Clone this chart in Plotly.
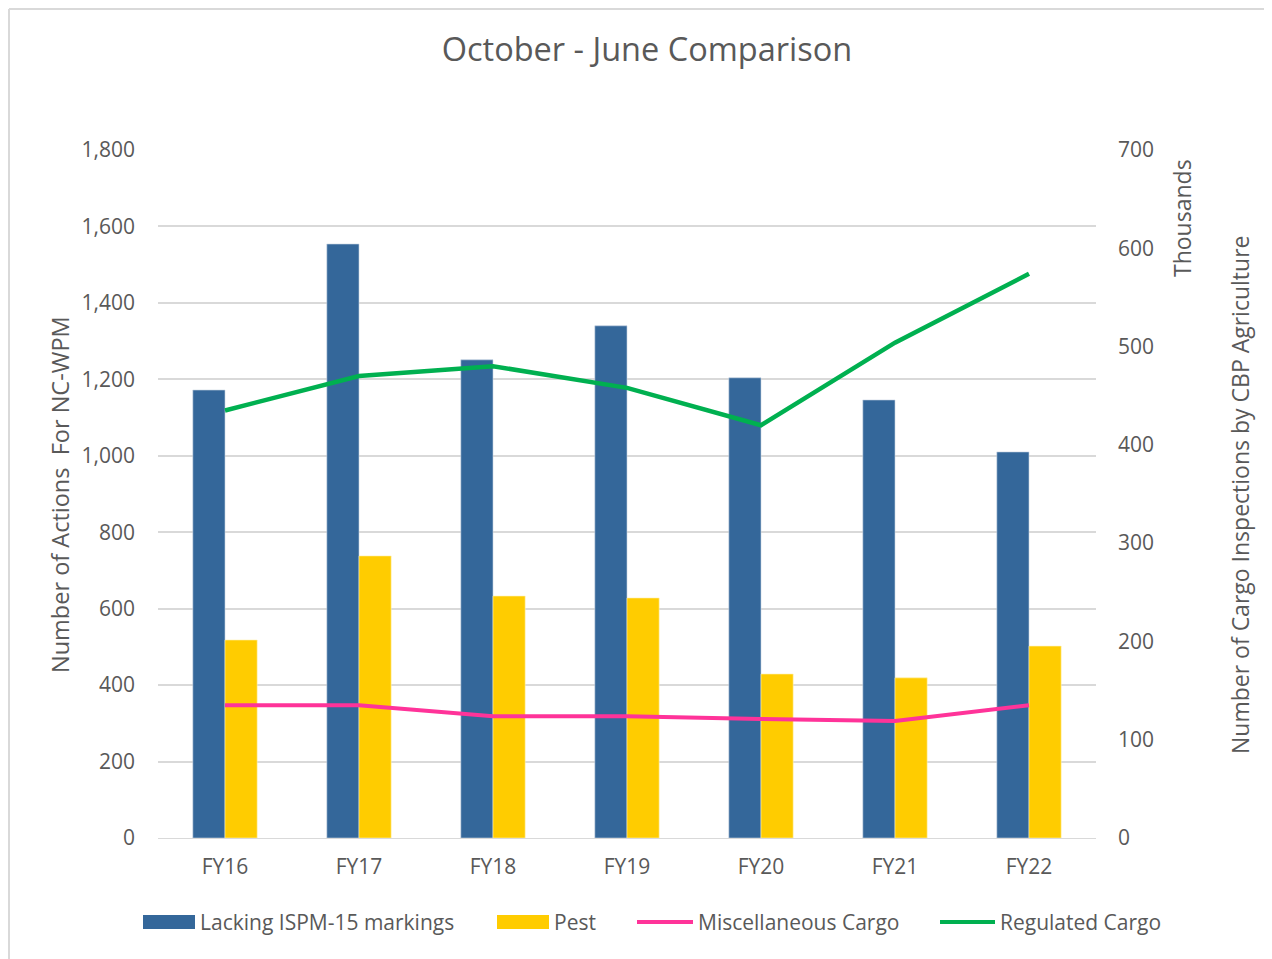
import plotly.graph_objects as go

categories = ["FY16", "FY17", "FY18", "FY19", "FY20", "FY21", "FY22"]
lacking = [1172, 1554, 1251, 1340, 1204, 1146, 1010]
pest = [518, 738, 633, 628, 429, 419, 502]
misc_cargo = [135, 135, 124, 124, 121, 119, 135]        # thousands
regulated_cargo = [435, 470, 480, 458, 420, 504, 574]   # thousands

left_ticks = [0, 200, 400, 600, 800, 1000, 1200, 1400, 1600, 1800]
right_ticks = [0, 100, 200, 300, 400, 500, 600, 700]

series_names = ["Lacking ISPM-15 markings", "Pest", "Miscellaneous Cargo", "Regulated Cargo"]
series_colors = ["#34679A", "#FFCC00", "#FF3399", "#00B050"]

FONT = "Open Sans"
GREY = "#595959"

# page -> paper helpers (plot area on page: x 158..1096, y 150..838)
def px(x):
    return (x - 158) / 938

def py(y):
    return (838 - y) / 688

fig = go.Figure()
fig.add_trace(go.Bar(x=categories, y=lacking, name=series_names[0],
                     marker=dict(color=series_colors[0], line=dict(width=0.6, color="#c8d3e0"))))
fig.add_trace(go.Bar(x=categories, y=pest, name=series_names[1],
                     marker=dict(color=series_colors[1], line=dict(width=0.6, color="#fff2b0"))))
fig.add_trace(go.Scatter(x=categories, y=misc_cargo, name=series_names[2], yaxis="y2",
                         mode="lines", line=dict(color=series_colors[2], width=4)))
fig.add_trace(go.Scatter(x=categories, y=regulated_cargo, name=series_names[3], yaxis="y2",
                         mode="lines", line=dict(color=series_colors[3], width=4.5)))

fig.update_layout(
    width=1264, height=951,
    margin=dict(l=150, r=176, t=142, b=121),
    paper_bgcolor="white", plot_bgcolor="white",
    font=dict(family=FONT, color=GREY, size=21),
    title=dict(text="October - June Comparison", x=(647 - 8) / 1264, xanchor="center",
               y=1 - (50 - 8) / 951, yanchor="middle",
               font=dict(family=FONT, size=32.5, color=GREY)),
    barmode="group", bargap=0.52, bargroupgap=0,
    xaxis=dict(type="category", showgrid=False, showline=True, linecolor="#d9d9d9",
               linewidth=1, ticks="", tickfont=dict(size=21, color=GREY),
               ticklabelstandoff=10),
    yaxis=dict(range=[0, 1800], tickvals=left_ticks, tickformat=",", showgrid=True,
               gridcolor="#d9d9d9", gridwidth=1.5, zeroline=False, showline=False,
               tickfont=dict(size=21, color=GREY), ticklabelstandoff=22),
    yaxis2=dict(range=[0, 700], tickvals=right_ticks, overlaying="y", side="right",
                showgrid=False, zeroline=False, showline=False,
                tickfont=dict(size=21, color=GREY), ticklabelstandoff=21),
    showlegend=False,
)

fig.add_annotation(text="Number of Actions  For NC-WPM", xref="paper", yref="paper",
                   x=px(60), y=py(495), textangle=-90, showarrow=False,
                   font=dict(size=23.5, color=GREY), xanchor="center", yanchor="middle")
fig.add_annotation(text="Number of Cargo Inspections by CBP Agriculture", xref="paper", yref="paper",
                   x=px(1240), y=py(495), textangle=-90, showarrow=False,
                   font=dict(size=23, color=GREY), xanchor="center", yanchor="middle")
fig.add_annotation(text="Thousands", xref="paper", yref="paper",
                   x=px(1182), y=py(218), textangle=-90, showarrow=False,
                   font=dict(size=23, color=GREY), xanchor="center", yanchor="middle")

# custom legend (wide swatches like the original)
legend_swatch_x = [(143, 195), (497, 549), (637, 693), (940, 995)]
legend_kinds = ["bar", "bar", "line", "line"]
legend_y = 922
for name, color, (x0, x1), kind in zip(series_names, series_colors, legend_swatch_x, legend_kinds):
    if kind == "bar":
        fig.add_shape(type="rect", xref="paper", yref="paper",
                      x0=px(x0), x1=px(x1), y0=py(legend_y + 7), y1=py(legend_y - 7),
                      fillcolor=color, line=dict(width=0))
    else:
        fig.add_shape(type="line", xref="paper", yref="paper",
                      x0=px(x0), x1=px(x1), y0=py(legend_y), y1=py(legend_y),
                      line=dict(color=color, width=4))
    fig.add_annotation(text=name, xref="paper", yref="paper", x=px(x1 + 3), y=py(legend_y),
                       xanchor="left", yanchor="middle", showarrow=False,
                       font=dict(size=21, color=GREY))

# chart frame (top and left edges visible)
fig.add_shape(type="line", xref="paper", yref="paper",
              x0=px(9), x1=px(1280), y0=py(9), y1=py(9),
              line=dict(color="#d9d9d9", width=2))
fig.add_shape(type="line", xref="paper", yref="paper",
              x0=px(9), x1=px(9), y0=py(970), y1=py(9),
              line=dict(color="#d9d9d9", width=2))

fig.write_html("out.html")
